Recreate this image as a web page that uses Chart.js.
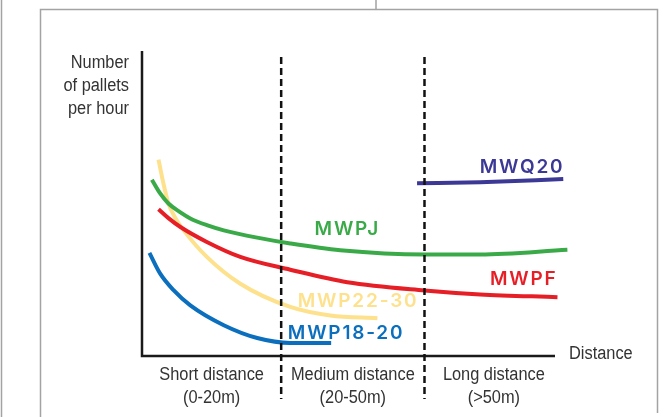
<!DOCTYPE html>
<html>
<head>
<meta charset="utf-8">
<script src="https://cdn.jsdelivr.net/npm/chart.js@4.4.1/dist/chart.umd.min.js"></script>
<style>
  html, body { margin: 0; padding: 0; background: #fff; }
  #wrap { width: 667px; height: 417px; }
</style>
</head>
<body>
<div id="wrap"><canvas id="palletChart" width="667" height="417"></canvas></div>
<script>
// Distance (abstract units, 0 = origin) and pallets per hour (relative units)
const mwpjX = [2.4, 4.4, 6.4, 9.3, 11.7, 15.7, 19.8, 27.9, 35.9, 48.0, 68.4, 81.9, 103.0];
const mwpjY = [57.8, 53.3, 50.0, 47.1, 45.1, 42.9, 41.2, 38.8, 36.9, 34.7, 33.3, 33.3, 34.8];

const mwpfX = [4.0, 6.4, 9.3, 15.7, 23.8, 35.9, 49.7, 68.4, 81.9, 100.6];
const mwpfY = [48.1, 45.2, 42.3, 37.4, 32.5, 28.3, 24.2, 21.5, 20.2, 19.3];

const mwp2230X = [4.0, 5.2, 6.4, 8.1, 10.1, 15.7, 23.8, 35.9, 45.6, 57.0];
const mwp2230Y = [64.4, 56.5, 50.0, 45.2, 41.2, 32.5, 23.7, 16.1, 13.3, 12.4];

const mwp1820X = [1.8, 4.4, 7.7, 11.7, 19.8, 27.9, 35.9, 45.8];
const mwp1820Y = [33.8, 27.0, 21.5, 16.6, 10.1, 5.9, 4.3, 4.3];

const mwq20X = [66.6, 81.9, 102.0];
const mwq20Y = [56.6, 57.0, 58.0];

// zone boundaries on the distance axis and the zone captions
const zoneEdges = [0, 33.7, 68.4, 102];
const zoneNames = ['Short distance', 'Medium distance', 'Long distance'];
const zoneRanges = ['(0-20m)', '(20-50m)', '(>50m)'];

const yTitle = ['Number', 'of pallets', 'per hour'];
const xTitle = 'Distance';

function pts(xs, ys) {
    return xs.map((x, i) => ({ x: x, y: ys[i] }));
}

const series = [
    { name: 'MWPJ', xs: mwpjX, ys: mwpjY, color: '#3aaa48', lx: 49.5, ly: 41.5 },
    { name: 'MWPF', xs: mwpfX, ys: mwpfY, color: '#e61f27', lx: 92.2, ly: 25.3 },
    { name: 'MWP22-30', xs: mwp2230X, ys: mwp2230Y, color: '#fde18c', lx: 52.1, ly: 18.0 },
    { name: 'MWP18-20', xs: mwp1820X, ys: mwp1820Y, color: '#0b6fbd', lx: 49.2, ly: 7.4 },
    { name: 'MWQ20', xs: mwq20X, ys: mwq20Y, color: '#3b3896', lx: 91.8, ly: 62.0 }
];

// narrow grey text: Liberation Sans squeezed a little
function narrowText(ctx, text, x, y) {
    ctx.save();
    ctx.translate(x, y);
    ctx.scale(0.91, 1);
    ctx.fillText(text, 0, 0);
    ctx.restore();
}

// frame, axes, dashed zone lines and all texts
const decor = {
    id: 'decor',
    beforeDraw(chart) {
        const ctx = chart.ctx;
        ctx.save();
        ctx.strokeStyle = '#a3a3a3';
        ctx.lineWidth = 1.5;
        ctx.beginPath();
        ctx.moveTo(1.5, 0); ctx.lineTo(1.5, 417);
        ctx.moveTo(376, 0); ctx.lineTo(376, 9.5);
        ctx.moveTo(40.5, 417); ctx.lineTo(40.5, 9.5); ctx.lineTo(657.5, 9.5); ctx.lineTo(657.5, 413);
        ctx.stroke();
        ctx.restore();
    },
    afterDatasetsDraw(chart) {
        const ctx = chart.ctx;
        const xs = chart.scales.x, ys = chart.scales.y;
        const x0 = xs.getPixelForValue(0), y0 = ys.getPixelForValue(0);
        ctx.save();

        // axes
        ctx.strokeStyle = '#1a1a1a';
        ctx.lineWidth = 2.5;
        ctx.beginPath();
        ctx.moveTo(x0, ys.getPixelForValue(100));
        ctx.lineTo(x0, y0);
        ctx.lineTo(xs.getPixelForValue(100), y0);
        ctx.stroke();

        // dashed zone separators
        ctx.strokeStyle = '#111';
        ctx.lineWidth = 2.5;
        ctx.setLineDash([7, 4]);
        [zoneEdges[1], zoneEdges[2]].forEach(v => {
            const px = xs.getPixelForValue(v);
            ctx.beginPath();
            ctx.moveTo(px, ys.getPixelForValue(98));
            ctx.lineTo(px, y0 + 43);
            ctx.stroke();
        });
        ctx.setLineDash([]);

        // axis texts
        ctx.fillStyle = '#333';
        ctx.font = '18px "Liberation Sans", Arial, sans-serif';
        ctx.textBaseline = 'middle';
        ctx.textAlign = 'right';
        yTitle.forEach((t, i) => narrowText(ctx, t, x0 - 13, ys.getPixelForValue(100) + 12 + i * 23));
        ctx.textAlign = 'left';
        narrowText(ctx, xTitle, xs.getPixelForValue(100) + 14, y0 - 2);
        ctx.textAlign = 'center';
        zoneNames.forEach((t, i) => {
            const cx = xs.getPixelForValue((zoneEdges[i] + zoneEdges[i + 1]) / 2);
            narrowText(ctx, t, cx, y0 + 19);
            narrowText(ctx, zoneRanges[i], cx, y0 + 42);
        });

        // series names
        ctx.font = '600 19px Inter, "DejaVu Sans", sans-serif';
        ctx.letterSpacing = '1.8px';
        series.forEach(s => {
            ctx.fillStyle = s.color;
            ctx.fillText(s.name, xs.getPixelForValue(s.lx) + 0.9, ys.getPixelForValue(s.ly));
        });
        ctx.restore();
    }
};

new Chart(document.getElementById('palletChart'), {
    type: 'scatter',
    data: {
        datasets: series.map(s => ({
            label: s.name,
            data: pts(s.xs, s.ys),
            showLine: true,
            borderColor: s.color,
            backgroundColor: s.color,
            borderWidth: 4,
            pointRadius: 0,
            cubicInterpolationMode: 'monotone',
            borderCapStyle: 'butt',
            clip: false
        }))
    },
    options: {
        responsive: false,
        animation: false,
        layout: { padding: { left: 142, right: 112, top: 51, bottom: 61 } },
        plugins: { legend: { display: false }, tooltip: { enabled: false } },
        scales: {
            x: { type: 'linear', min: 0, max: 100, display: false },
            y: { type: 'linear', min: 0, max: 100, display: false }
        }
    },
    plugins: [decor]
});
</script>
</body>
</html>
